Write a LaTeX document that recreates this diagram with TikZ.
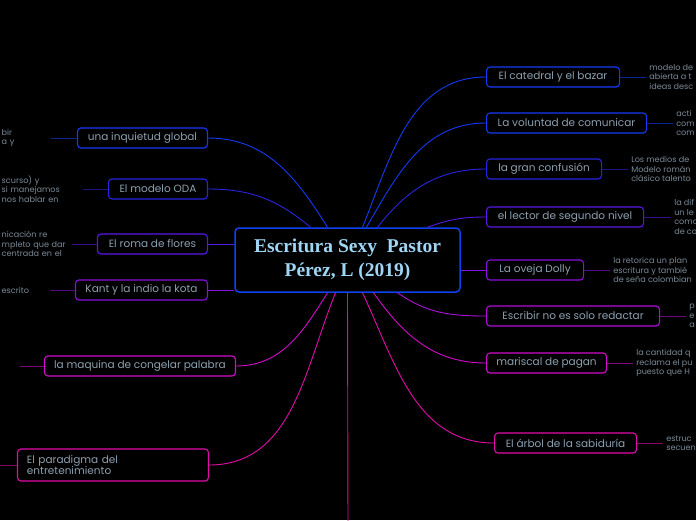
\documentclass[tikz,border=0pt]{standalone}
\usepackage{fontspec}
\setmainfont{Poppins}
\newfontfamily\titlefont{Liberation Serif}
\usetikzlibrary{positioning}
\definecolor{mainblue}{RGB}{16,64,240}
\definecolor{titleblue}{RGB}{160,214,245}
\definecolor{topictext}{RGB}{140,160,176}
\definecolor{leaftext}{RGB}{122,138,152}
\definecolor{tblue}{RGB}{20,58,245}
\definecolor{tindigo}{RGB}{40,36,225}
\definecolor{tviolet}{RGB}{88,24,228}
\definecolor{tpurple}{RGB}{138,16,222}
\definecolor{tplum}{RGB}{176,14,218}
\definecolor{tmagenta}{RGB}{210,12,205}
\definecolor{tpink}{RGB}{226,12,170}
\definecolor{trose}{RGB}{226,14,140}

\begin{document}
\begin{tikzpicture}[x=1pt, y=-1pt,
    topic/.style={draw=#1, line width=1.1pt, rounded corners=3.5pt, fill=black,
                  minimum height=20pt, inner xsep=5pt, text=topictext,
                  font=\fontsize{10.5}{11.5}\selectfont},
    leaf/.style={text=leaftext, align=left, inner sep=3pt,
                 font=\fontsize{8.1}{9.5}\selectfont},
    link/.style={draw=#1, line width=0.9pt},
    lead/.style={draw=#1!60!black, line width=0.9pt}
  ]
  \fill[black] (0,0) rectangle (696,520);
  \useasboundingbox (0,0) rectangle (696,520);
  \begin{scope}
  \clip (0,0) rectangle (696,520);

  % central topic
  \node[draw=mainblue, line width=1.5pt, rounded corners=4pt, fill=black,
        minimum width=225pt, minimum height=64pt, align=center, text=titleblue,
        font=\titlefont\bfseries\fontsize{19.5}{24}\selectfont]
        (main) at (347.5,260) {Escritura Sexy\ \ Pastor\\Pérez, L (2019)};

  % left side
  \node[topic=tblue, minimum width=130pt, anchor=east] (inq) at (208,138) {una inquietud global};
  \node[topic=tindigo, minimum width=99pt, anchor=east] (oda) at (208,189) {El modelo ODA};
  \node[topic=tviolet, minimum width=110pt, anchor=east] (roma) at (208,244) {El roma de flores};
  \node[topic=tpurple, minimum width=132pt, anchor=east] (kant) at (208,290) {Kant y la indio la kota};
  \node[topic=tmagenta, minimum width=191pt, anchor=east] (maq) at (236,366) {la maquina de congelar palabra};
  \node[topic=tpink, minimum width=191pt, minimum height=32pt, anchor=east,
        align=left, text width=172pt] (par) at (209,465) {El paradigma del\\entretenimiento};

  \node[leaf, text width=46pt, left=26pt of inq] (inqleaf) {bir\\a y};
  \node[leaf, text width=78pt, left=25pt of oda] (odaleaf) {scurso) y\\si manejamos\\nos hablar en};
  \node[leaf, text width=67pt, left=25pt of roma] (romaleaf) {nicación re\\mpleto que dar\\centrada en el};
  \node[leaf, text width=45pt, left=25pt of kant] (kantleaf) {escrito};
  \coordinate (maqleaf) at (20,366);
  \coordinate (parleaf) at (-6,465);

  % right side
  \node[topic=tblue, minimum width=133pt, anchor=west] (cat) at (486,77) {El catedral y el bazar};
  \node[topic=tblue, minimum width=160pt, anchor=west] (vol) at (486,123) {La voluntad de comunicar};
  \node[topic=tindigo, minimum width=115pt, anchor=west] (gran) at (486,169) {la gran confusión};
  \node[topic=tviolet, minimum width=157pt, anchor=west] (lec) at (486,217) {el lector de segundo nivel};
  \node[topic=tpurple, minimum width=97pt, anchor=west] (dolly) at (486,270) {La oveja Dolly};
  \node[topic=tplum, minimum width=173pt, anchor=west] (esc) at (486,316) {Escribir no es solo redactar};
  \node[topic=tmagenta, minimum width=120pt, anchor=west] (mar) at (486,363) {mariscal de pagan};
  \node[topic=tpink, minimum width=142pt, anchor=west] (arbol) at (494,443) {El árbol de la sabiduría};

  \node[leaf, right=26pt of cat] (catleaf) {modelo de\\abierta a t\\ideas desc};
  \node[leaf, right=26pt of vol] (volleaf) {acti\\com\\com};
  \node[leaf, right=26pt of gran] (granleaf) {Los medios de\\Modelo román\\clásico talento};
  \node[leaf, right=27pt of lec] (lecleaf) {la dif\\un le\\como\\de co};
  \node[leaf, right=26pt of dolly] (dollyleaf) {la retorica un plan\\escritura y tambié\\de seña colombian};
  \node[leaf, right=26pt of esc] (escleaf) {p\\e\\a};
  \node[leaf, right=26pt of mar] (marleaf) {la cantidad q\\reclama el pu\\puesto que H};
  \node[leaf, right=26pt of arbol] (arbolleaf) {estruc\\secuen};
  \coordinate (offdown) at (348,530);

  % connectors to the centre
  \draw[link=tblue] (inq.east) to[out=0, in=122] ([xshift=-20pt]main.north);
  \draw[link=tindigo] (oda.east) to[out=0, in=140] ([xshift=-37pt]main.north);
  \draw[link=tviolet] (roma.east) -- ([yshift=16pt]main.west);
  \draw[link=tpurple] (kant.east) -- ([yshift=-30pt]main.west);
  \draw[link=tmagenta] (maq.east) to[out=0, in=-122] ([xshift=-20pt]main.south);
  \draw[link=tpink] (par.east) to[out=0, in=-112] ([xshift=-12pt]main.south);
  \draw[link=trose] (main.south) -- (offdown);

  \draw[link=tblue] (cat.west) to[out=180, in=68] ([xshift=15pt]main.north);
  \draw[link=tblue] (vol.west) to[out=180, in=60] ([xshift=19pt]main.north);
  \draw[link=tindigo] (gran.west) to[out=180, in=52] ([xshift=30pt]main.north);
  \draw[link=tviolet] (lec.west) to[out=180, in=20] ([xshift=80pt]main.north);
  \draw[link=tpurple] (dolly.west) -- ([yshift=-10pt]main.east);
  \draw[link=tplum] (esc.west) to[out=180, in=-35] ([xshift=50pt]main.south);
  \draw[link=tmagenta] (mar.west) to[out=180, in=-55] ([xshift=26pt]main.south);
  \draw[link=tpink] (arbol.west) to[out=180, in=-65] ([xshift=15pt]main.south);

  % leads to the notes
  \draw[lead=tblue] (inq.west) -- (inqleaf.east);
  \draw[lead=tindigo] (oda.west) -- (odaleaf.east);
  \draw[lead=tviolet] (roma.west) -- (romaleaf.east);
  \draw[lead=tpurple] (kant.west) -- (kantleaf.east);
  \draw[lead=tmagenta] (maq.west) -- (maqleaf);
  \draw[lead=tpink] (par.west) -- (parleaf);
  \draw[lead=tblue] (cat.east) -- (catleaf.west);
  \draw[lead=tblue] (vol.east) -- (volleaf.west);
  \draw[lead=tindigo] (gran.east) -- (granleaf.west);
  \draw[lead=tviolet] (lec.east) -- (lecleaf.west);
  \draw[lead=tpurple] (dolly.east) -- (dollyleaf.west);
  \draw[lead=tplum] (esc.east) -- (escleaf.west);
  \draw[lead=tmagenta] (mar.east) -- (marleaf.west);
  \draw[lead=tpink] (arbol.east) -- (arbolleaf.west);
  \end{scope}
\end{tikzpicture}
\end{document}
